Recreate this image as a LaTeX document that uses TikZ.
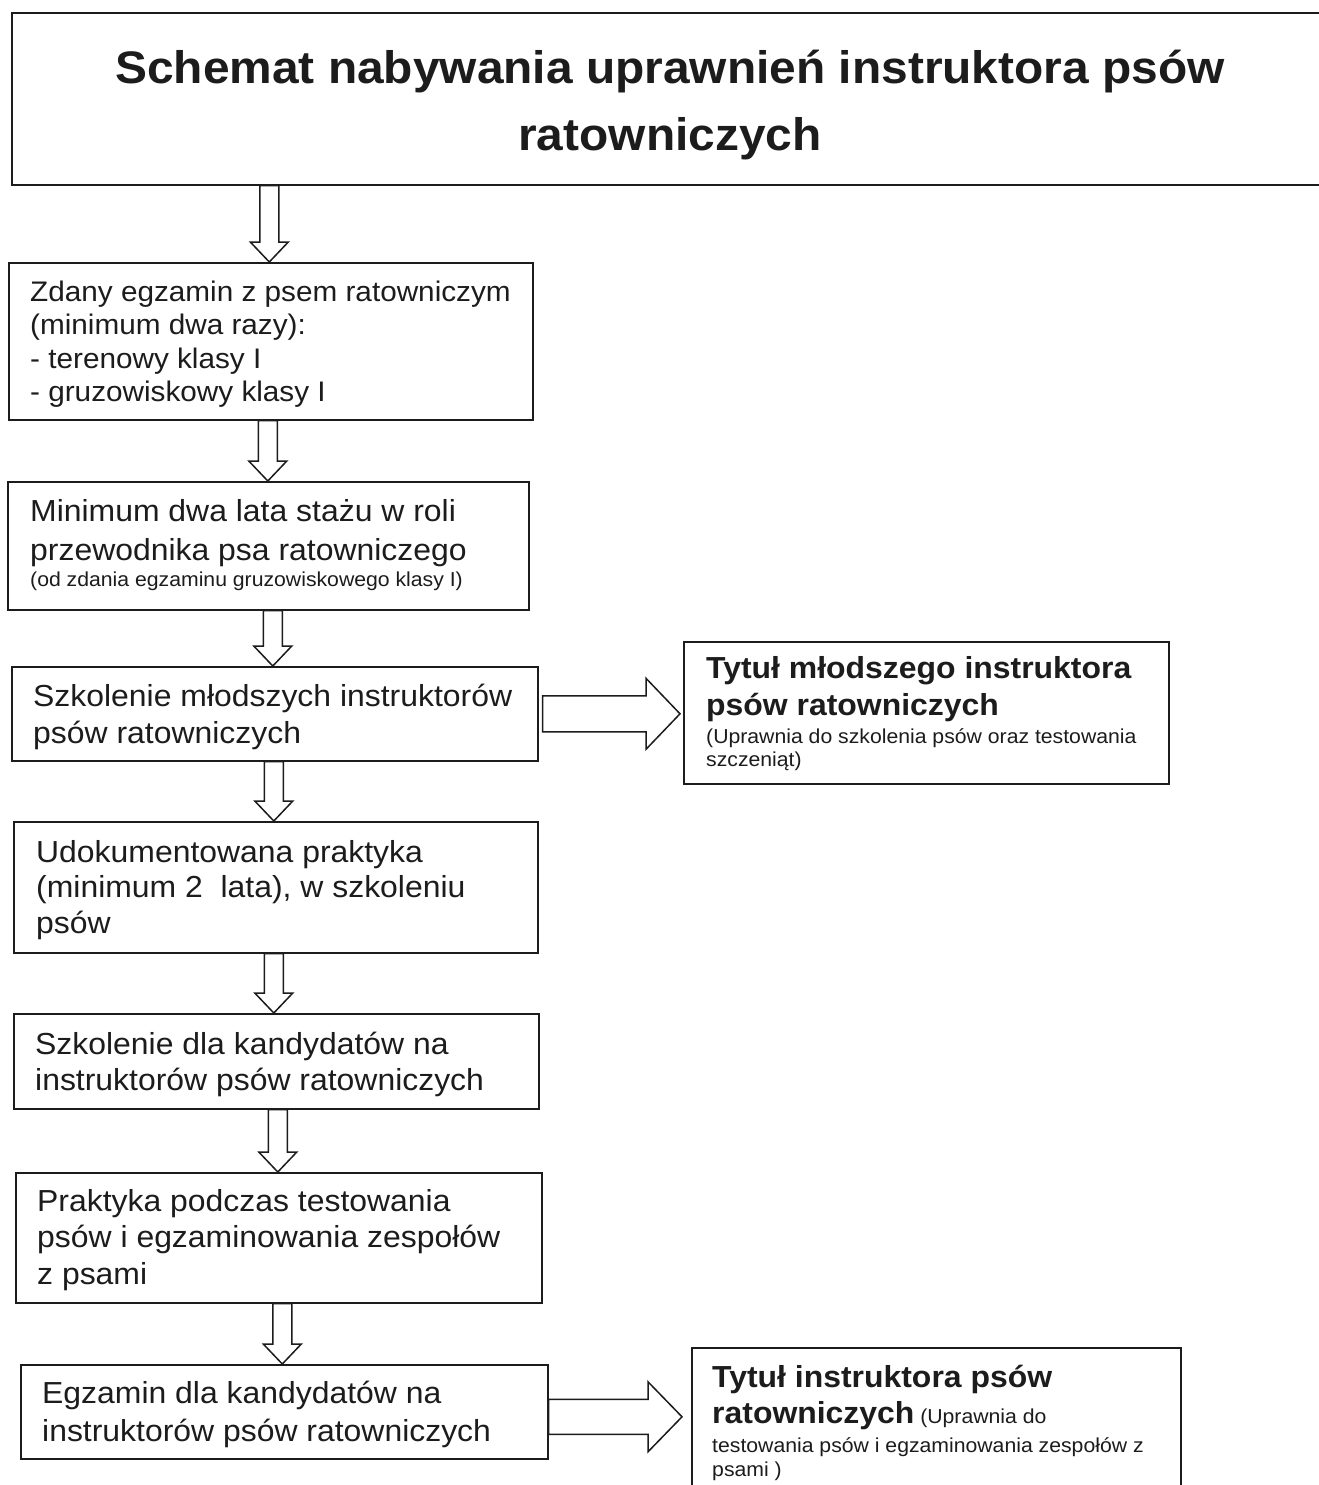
\documentclass[tikz,border=0pt]{standalone}
\usepackage{fontspec}
\setmainfont{Liberation Sans}[FakeStretch=1.05]
\usetikzlibrary{calc}
\definecolor{ink}{RGB}{28,28,28}
\newcommand\fsz[1]{\lineskiplimit=-1000pt\fontsize{#1}{0}\selectfont}
\newcommand\firstline{\rule{0pt}{0.8em}}
\tikzset{
  box/.style={draw=ink, line width=1.6pt, rectangle, inner sep=0pt, anchor=north west},
  txt/.style={align=left, inner sep=0pt, anchor=north west, text=ink},
  bodytxt/.style={txt, font=\fsz{30.4}},
  blk/.style={draw=ink, line width=1.5pt, fill=white, line join=miter},
}
\newcommand\downblock[3]{%
  \draw[blk] let \p1=(#1.south), \p2=(#2.north) in
    (\x2+#3-9.5pt,\y1) -- (\x2+#3+9.5pt,\y1) -- (\x2+#3+9.5pt,\y2+20pt)
    -- (\x2+#3+19pt,\y2+20pt) -- (\x2+#3,\y2) -- (\x2+#3-19pt,\y2+20pt)
    -- (\x2+#3-9.5pt,\y2+20pt) -- cycle;}
\begin{document}
\begin{tikzpicture}[x=1pt,y=-1pt]
\useasboundingbox (0,0) rectangle (1319,1485);
\fill[white] (0,0) rectangle (1319,1485);
\clip (0,0) rectangle (1319,1485);

% boxes
\node[box, minimum width=1319, minimum height=172] (title) at (11,12) {};
\node[box, minimum width=524, minimum height=157] (b1) at (8,262) {};
\node[box, minimum width=521, minimum height=128] (b2) at (7,481) {};
\node[box, minimum width=526, minimum height=94] (b3) at (11,666) {};
\node[box, minimum width=524, minimum height=131] (b4) at (13,821) {};
\node[box, minimum width=525, minimum height=95] (b5) at (13,1013) {};
\node[box, minimum width=526, minimum height=130] (b6) at (15,1172) {};
\node[box, minimum width=527, minimum height=94] (b7) at (20,1364) {};
\node[box, minimum width=485, minimum height=142] (rb1) at (683,641) {};
\node[box, minimum width=489, minimum height=150] (rb2) at (691,1347) {};

% texts
\node[txt, align=center, anchor=north, font={\fsz{45.6}\bfseries}] (titlet) at (670,46.5)
  {\firstline Schemat nabywania uprawnień instruktora psów\\[67pt] ratowniczych};
\node[txt, font=\fsz{28.3}] (b1t) at (30,278.4)
  {\firstline Zdany egzamin z psem ratowniczym\\[33.5pt] (minimum dwa razy):\\[33.5pt] - terenowy klasy I\\[33.5pt] - gruzowiskowy klasy I};
\node[bodytxt] (b2t) at (30,496.7)
  {\firstline Minimum dwa lata stażu w roli\\[39pt] przewodnika psa ratowniczego\\[26pt] {\fsz{20.2}(od zdania egzaminu gruzowiskowego klasy I)}};
\node[bodytxt] (b3t) at (33,682.4)
  {\firstline Szkolenie młodszych instruktorów\\[37pt] psów ratowniczych};
\node[bodytxt] (b4t) at (36,837.7)
  {\firstline Udokumentowana praktyka\\[35.5pt] (minimum 2\ \ lata), w szkoleniu\\[35.5pt] psów};
\node[bodytxt] (b5t) at (35,1029.7)
  {\firstline Szkolenie dla kandydatów na\\[36pt] instruktorów psów ratowniczych};
\node[bodytxt] (b6t) at (37,1186.7)
  {\firstline Praktyka podczas testowania\\[36.5pt] psów i egzaminowania zespołów\\[36.5pt] z psami};
\node[bodytxt] (b7t) at (42,1378.7)
  {\firstline Egzamin dla kandydatów na\\[38pt] instruktorów psów ratowniczych};
\node[txt, font=\fsz{20.2}] (rb1t) at (706,653.7)
  {{\bfseries\fsz{30.4}\firstline Tytuł młodszego instruktora}\\[37pt]
   {\bfseries\fsz{30.4}psów ratowniczych}\\[28.5pt]
   (Uprawnia do szkolenia psów oraz testowania\\[23pt]
   szczeniąt)};
\node[txt, font=\fsz{20.2}] (rb2t) at (712,1362.7)
  {{\bfseries\fsz{30.4}\firstline Tytuł instruktora psów}\\[36pt]
   {\bfseries\fsz{30.4}ratowniczych} (Uprawnia do\\[29.5pt]
   testowania psów i egzaminowania zespołów z\\[24pt]
   psami )};

% down arrows
\downblock{title}{b1}{-1.5pt}
\downblock{b1}{b2}{-0.5pt}
\downblock{b2}{b3}{-2pt}
\downblock{b3}{b4}{-2pt}
\downblock{b4}{b5}{-2.5pt}
\downblock{b5}{b6}{-1pt}
\downblock{b6}{b7}{-2pt}

% right arrows
\draw[blk] let \p1=(b3.east), \p2=(rb1.west) in
  (\x1+4pt,\y1+18pt) -- (\x2-37pt,\y1+18pt) -- (\x2-37pt,\y1+35.5pt)
  -- (\x2-3pt,\y1) -- (\x2-37pt,\y1-35.5pt) -- (\x2-37pt,\y1-18pt)
  -- (\x1+4pt,\y1-18pt) -- cycle;
\draw[blk] let \p1=($(b7.east)+(0,5)$), \p2=(rb2.west) in
  (\x1,\y1+17.5pt) -- (\x2-43pt,\y1+17.5pt) -- (\x2-43pt,\y1+35pt)
  -- (\x2-9pt,\y1) -- (\x2-43pt,\y1-35pt) -- (\x2-43pt,\y1-17.5pt)
  -- (\x1,\y1-17.5pt) -- cycle;
\end{tikzpicture}
\end{document}
